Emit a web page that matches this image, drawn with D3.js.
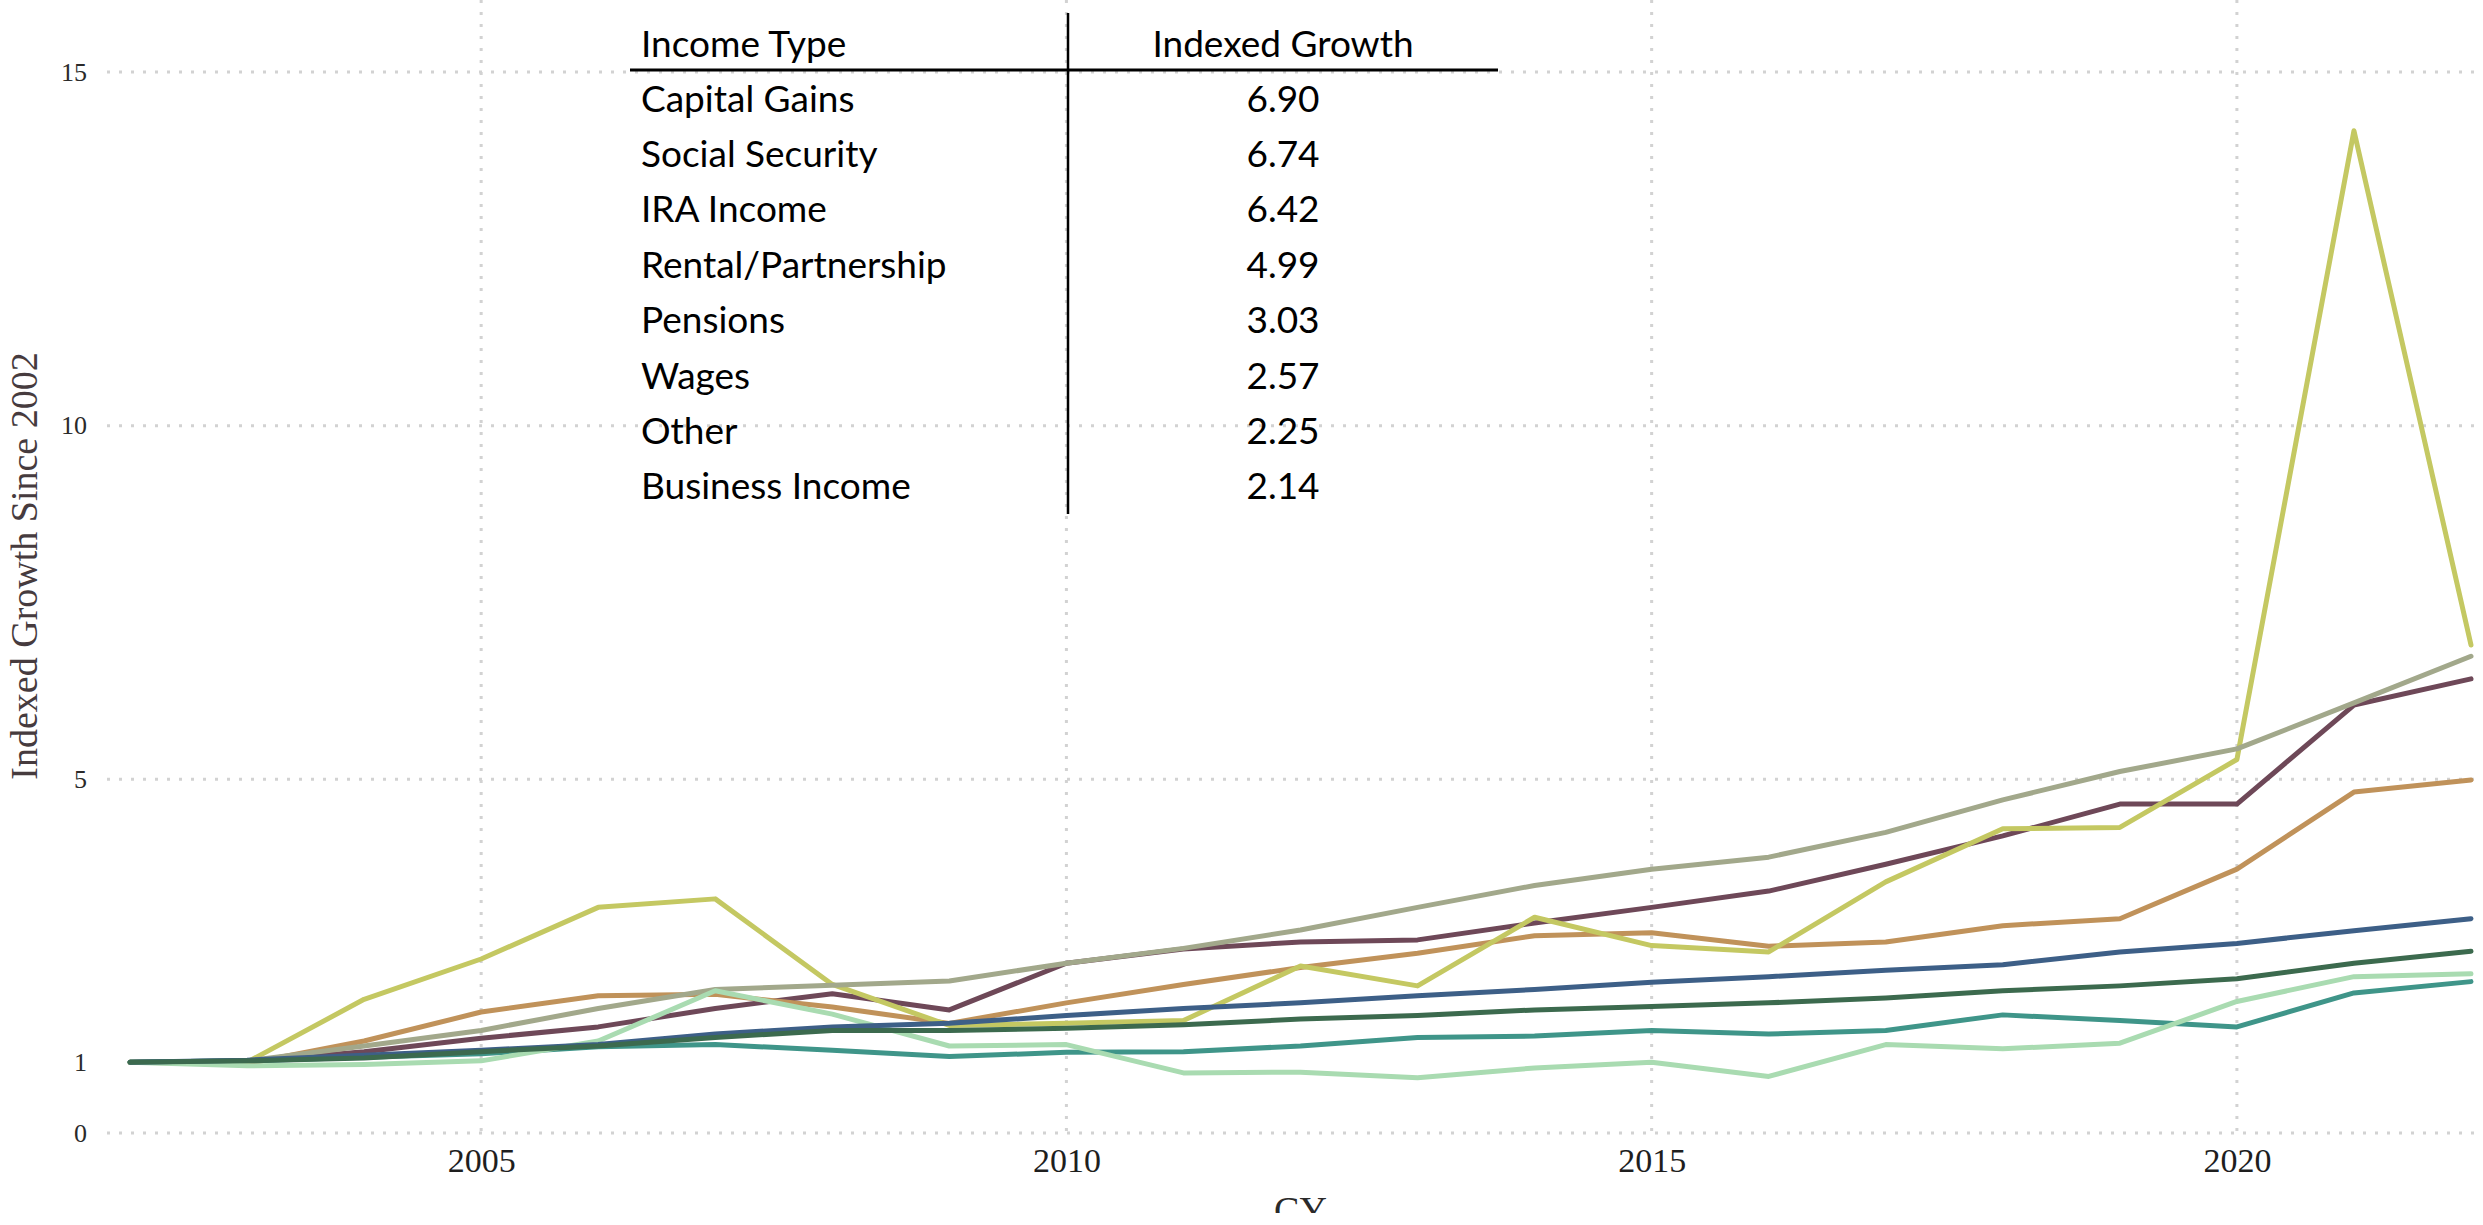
<!DOCTYPE html>
<html>
<head>
<meta charset="utf-8">
<script src="https://cdn.jsdelivr.net/npm/d3@7"></script>
<style>
  body { margin: 0; background: #fff; }
  svg { display: block; }
</style>
</head>
<body>
<div id="chart"></div>
<script>
// Data (indexed to 2002 = 1)
const years = [2002, 2003, 2004, 2005, 2006, 2007, 2008, 2009, 2010, 2011, 2012,
               2013, 2014, 2015, 2016, 2017, 2018, 2019, 2020, 2021, 2022];

const capitalGains   = [1.00, 1.00, 1.89, 2.46, 3.19, 3.31, 2.10, 1.52, 1.55, 1.59, 2.36, 2.08, 3.05, 2.65, 2.56, 3.55, 4.30, 4.32, 5.28, 14.17, 6.90];
const socialSecurity = [1.00, 1.02, 1.23, 1.45, 1.76, 2.03, 2.09, 2.15, 2.40, 2.61, 2.87, 3.19, 3.50, 3.73, 3.90, 4.25, 4.71, 5.11, 5.43, 6.08, 6.74];
const iraIncome      = [1.00, 1.01, 1.15, 1.34, 1.50, 1.76, 1.97, 1.74, 2.40, 2.60, 2.70, 2.73, 2.97, 3.19, 3.42, 3.80, 4.20, 4.65, 4.65, 6.05, 6.42];
const rental         = [1.00, 0.98, 1.30, 1.71, 1.94, 1.96, 1.78, 1.55, 1.84, 2.10, 2.34, 2.54, 2.79, 2.83, 2.64, 2.70, 2.93, 3.03, 3.73, 4.82, 4.99];
const pensions       = [1.00, 1.03, 1.10, 1.17, 1.25, 1.40, 1.50, 1.55, 1.66, 1.76, 1.84, 1.94, 2.03, 2.13, 2.21, 2.30, 2.38, 2.56, 2.68, 2.86, 3.03];
const wages          = [1.00, 1.02, 1.06, 1.15, 1.23, 1.35, 1.45, 1.45, 1.48, 1.53, 1.61, 1.66, 1.74, 1.79, 1.84, 1.91, 2.01, 2.08, 2.18, 2.40, 2.57];
const other          = [1.00, 0.95, 0.97, 1.02, 1.30, 2.01, 1.68, 1.23, 1.25, 0.85, 0.86, 0.78, 0.92, 1.00, 0.80, 1.25, 1.19, 1.27, 1.86, 2.21, 2.25];
const business       = [1.00, 1.02, 1.07, 1.12, 1.22, 1.25, 1.17, 1.08, 1.14, 1.15, 1.23, 1.35, 1.37, 1.45, 1.40, 1.45, 1.67, 1.59, 1.50, 1.98, 2.14];

// Inset table
const incomeTypes   = ['Capital Gains', 'Social Security', 'IRA Income', 'Rental/Partnership',
                       'Pensions', 'Wages', 'Other', 'Business Income'];
const indexedGrowth = [6.90, 6.74, 6.42, 4.99, 3.03, 2.57, 2.25, 2.14];

const yTicks = [0, 1, 5, 10, 15];
const yGrid = [0, 5, 10, 15];
const xTicks = [2005, 2010, 2015, 2020];

// drawing order: last one ends up on top
const series = [
    { name: 'IRA Income', values: iraIncome, color: '#6e4858' },
    { name: 'Rental/Partnership', values: rental, color: '#c0925a' },
    { name: 'Capital Gains', values: capitalGains, color: '#c4c862' },
    { name: 'Social Security', values: socialSecurity, color: '#a2a88b' },
    { name: 'Business Income', values: business, color: '#3f9589' },
    { name: 'Other', values: other, color: '#a9dbb1' },
    { name: 'Pensions', values: pensions, color: '#3d5f87' },
    { name: 'Wages', values: wages, color: '#3c6a4e' }
];

const width = 2483;
const height = 1225;

const svg = d3.select('#chart')
    .append('svg')
    .attr('width', width)
    .attr('height', height);

const x = d3.scaleLinear().domain([2002, 2022]).range([130, 2471]);
const y = d3.scaleLinear().domain([0, 15]).range([1133, 72]);

// Dotted grid
svg.append('g')
    .selectAll('line')
    .data(yGrid)
    .join('line')
    .attr('x1', 107)
    .attr('x2', width)
    .attr('y1', d => y(d))
    .attr('y2', d => y(d))
    .attr('stroke', '#d2d2d2')
    .attr('stroke-width', 3)
    .attr('stroke-dasharray', '3,9');

svg.append('g')
    .selectAll('line')
    .data(xTicks)
    .join('line')
    .attr('x1', d => x(d))
    .attr('x2', d => x(d))
    .attr('y1', 0)
    .attr('y2', y(0))
    .attr('stroke', '#d2d2d2')
    .attr('stroke-width', 3)
    .attr('stroke-dasharray', '3,9');

// Axes
const yAxis = svg.append('g')
    .attr('transform', 'translate(95,0)')
    .call(d3.axisLeft(y).tickValues(yTicks).tickSize(0).tickPadding(8));
yAxis.select('.domain').remove();
yAxis.selectAll('text')
    .style('font-family', '"Liberation Serif", serif')
    .style('font-size', '26px')
    .attr('fill', '#2a2a2a');

const xAxis = svg.append('g')
    .attr('transform', `translate(0,${y(0)})`)
    .call(d3.axisBottom(x).tickValues(xTicks).tickFormat(d3.format('d')).tickSize(0).tickPadding(15));
xAxis.select('.domain').remove();
xAxis.selectAll('text')
    .style('font-family', '"Liberation Serif", serif')
    .style('font-size', '34px')
    .attr('fill', '#1e1e1e');

// Axis titles
svg.append('text')
    .attr('transform', 'translate(37,566) rotate(-90)')
    .attr('text-anchor', 'middle')
    .style('font-family', '"Liberation Serif", serif')
    .style('font-size', '38px')
    .attr('fill', '#463b3e')
    .text('Indexed Growth Since 2002');

svg.append('clipPath')
    .attr('id', 'cut')
    .append('rect')
    .attr('x', 0).attr('y', 0)
    .attr('width', width).attr('height', 1213);

svg.append('text')
    .attr('x', (x.range()[0] + x.range()[1]) / 2)
    .attr('y', 1223)
    .attr('text-anchor', 'middle')
    .attr('clip-path', 'url(#cut)')
    .style('font-family', '"Liberation Serif", serif')
    .style('font-size', '38px')
    .attr('fill', '#2a2a2a')
    .text('CY');

// Lines
const line = d3.line()
    .x((d, i) => x(years[i]))
    .y(d => y(d));

svg.append('g')
    .selectAll('path')
    .data(series)
    .join('path')
    .attr('d', d => line(d.values))
    .attr('fill', 'none')
    .attr('stroke', d => d.color)
    .attr('stroke-width', 5)
    .attr('stroke-linejoin', 'round')
    .attr('stroke-linecap', 'round');

// Inset table
const table = svg.append('g');
const tableFont = 'Lato, "Open Sans", sans-serif';
const rowY = i => 111.5 + i * 55.4;

table.append('line')
    .attr('x1', 630).attr('x2', 1498)
    .attr('y1', 70).attr('y2', 70)
    .attr('stroke', '#000')
    .attr('stroke-width', 3);

table.append('line')
    .attr('x1', 1068).attr('x2', 1068)
    .attr('y1', 13).attr('y2', 514)
    .attr('stroke', '#000')
    .attr('stroke-width', 2.5);

table.append('text')
    .attr('x', 641).attr('y', 57)
    .style('font-family', tableFont)
    .style('font-size', '37px')
    .text('Income Type');

table.append('text')
    .attr('x', 1283).attr('y', 57)
    .attr('text-anchor', 'middle')
    .style('font-family', tableFont)
    .style('font-size', '37px')
    .text('Indexed Growth');

table.selectAll('.type')
    .data(incomeTypes)
    .join('text')
    .attr('class', 'type')
    .attr('x', 641)
    .attr('y', (d, i) => rowY(i))
    .style('font-family', tableFont)
    .style('font-size', '37px')
    .text(d => d);

table.selectAll('.val')
    .data(indexedGrowth)
    .join('text')
    .attr('class', 'val')
    .attr('x', 1283)
    .attr('y', (d, i) => rowY(i))
    .attr('text-anchor', 'middle')
    .style('font-family', tableFont)
    .style('font-size', '37px')
    .text(d => d3.format('.2f')(d));
</script>
</body>
</html>
